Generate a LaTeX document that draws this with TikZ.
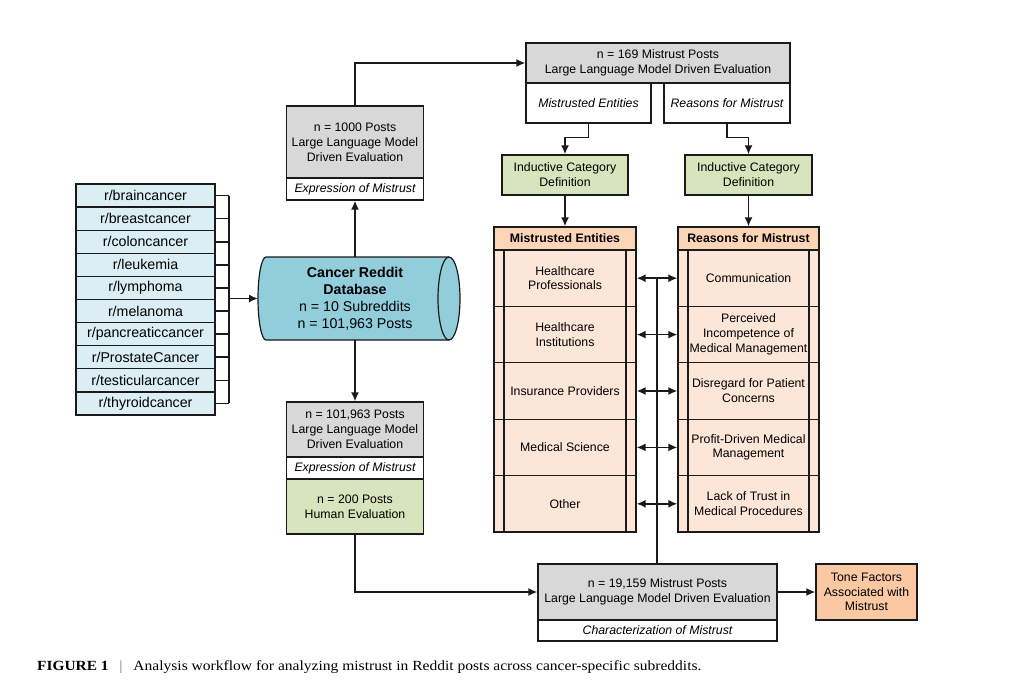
\documentclass[tikz,border=0pt]{standalone}
\usepackage{fontspec}
\setmainfont{Liberation Sans}
\newfontfamily\capfont{Liberation Serif}
\usetikzlibrary{arrows.meta,calc}
\definecolor{subblue}{HTML}{DAEEF3}
\definecolor{cylblue}{HTML}{92CDDC}
\definecolor{boxgray}{HTML}{D8D8D8}
\definecolor{boxgreen}{HTML}{D7E4BD}
\definecolor{peach}{HTML}{FCE6D8}
\definecolor{hdrpeach}{HTML}{FBD5B5}
\definecolor{tonepeach}{HTML}{FAC8A2}
\definecolor{lineclr}{HTML}{1A1A1A}
\newcommand{\fsmain}{\fontsize{12.3}{14.8}\selectfont}
\newcommand{\fsbig}{\fontsize{14.2}{17}\selectfont}
\begin{document}
\begin{tikzpicture}[x=1pt,y=-1pt,
  bx/.style={draw=lineclr, line width=1.2pt, align=center, inner sep=0pt, font=\fsmain},
  graybox/.style={bx, fill=boxgray},
  whitebox/.style={bx, fill=white, font=\fsmain\itshape},
  greenbox/.style={bx, fill=boxgreen},
  hdrbox/.style={bx, fill=hdrpeach, font=\fsmain\bfseries},
  subbox/.style={bx, fill=subblue, font=\fsbig, minimum width=139pt, minimum height=23.1pt},
  procbox/.style={bx, fill=peach, minimum height=56.4pt,
    path picture={
      \draw[lineclr, line width=1.3pt] ([xshift=10pt]path picture bounding box.north west) -- ([xshift=10pt]path picture bounding box.south west);
      \draw[lineclr, line width=1.3pt] ([xshift=-10pt]path picture bounding box.north east) -- ([xshift=-10pt]path picture bounding box.south east);
    }},
  conn/.style={draw=lineclr, line width=1.7pt},
  arr/.style={conn, -{Latex[length=9pt,width=8pt]}},
  darr/.style={conn, {Latex[length=9pt,width=8pt]}-{Latex[length=9pt,width=8pt]}}
]
\useasboundingbox (0,0) rectangle (1009,695);

% subreddit list
\foreach \n [count=\i] in {r/braincancer,r/breastcancer,r/coloncancer,r/leukemia,r/lymphoma,r/melanoma,r/pancreaticcancer,r/ProstateCancer,r/testicularcancer,r/thyroidcancer}{
  \node[subbox] (s\i) at (145.5,{195.55+23.1*(\i-1)}) {\n};
}
\coordinate (br) at (229,298.5);
\foreach \i in {1,...,10}{\draw[conn] (s\i.east) -- (s\i.east -| br);}
\draw[conn] (s1.east -| br) -- (s10.east -| br);

% cylinder
\path[draw=lineclr, line width=1.2pt, fill=cylblue]
  (266,257) -- (449,257) arc[start angle=90, end angle=-90, x radius=11pt, y radius=41.5pt]
  -- (266,340) arc[start angle=270, end angle=90, x radius=8pt, y radius=41.5pt] -- cycle;
\draw[lineclr, line width=1.2pt] (449,257) arc[start angle=90, end angle=270, x radius=11pt, y radius=41.5pt];
\node[inner sep=0pt, minimum width=160pt, minimum height=83pt, align=center, font=\fsbig] (db) at (355,298.5)
  {\textbf{Cancer Reddit}\\\textbf{Database}\\n = 10 Subreddits\\n = 101,963 Posts};
\coordinate (dbw) at (258,298.5);
\draw[arr] (br) -- (dbw);

% left column boxes
\node[graybox, minimum width=137pt, minimum height=72pt] (llm1) at (355,142) {n = 1000 Posts\\Large Language Model\\Driven Evaluation};
\node[whitebox, minimum width=137pt, minimum height=22pt] (exp1) at (355,189) {Expression of Mistrust};
\node[graybox, minimum width=137pt, minimum height=55pt] (llm2) at (355,429.5) {n = 101,963 Posts\\Large Language Model\\Driven Evaluation};
\node[whitebox, minimum width=137pt, minimum height=22pt] (exp2) at (355,468) {Expression of Mistrust};
\node[greenbox, minimum width=137pt, minimum height=55pt] (hum) at (355,506.5) {n = 200 Posts\\Human Evaluation};

% top boxes
\node[graybox, minimum width=264pt, minimum height=40pt] (top) at (658,63) {n = 169 Mistrust Posts\\Large Language Model Driven Evaluation};
\node[whitebox, minimum width=125pt, minimum height=40pt] (me) at (588.5,103) {Mistrusted Entities};
\node[whitebox, minimum width=126pt, minimum height=40pt] (rm) at (727,103) {Reasons for Mistrust};
\node[greenbox, minimum width=126pt, minimum height=40pt] (ind1) at (565,175) {Inductive Category\\Definition};
\node[greenbox, minimum width=127pt, minimum height=40pt] (ind2) at (748.5,175) {Inductive Category\\Definition};

% category columns
\node[hdrbox, minimum width=142pt, minimum height=23pt] (hdr1) at (565,238.5) {Mistrusted Entities};
\node[hdrbox, minimum width=141pt, minimum height=23pt] (hdr2) at (748.5,238.5) {Reasons for Mistrust};
\foreach \t [count=\i] in {{Healthcare\\Professionals},{Healthcare\\Institutions},{Insurance Providers},{Medical Science},{Other}}{
  \node[procbox, minimum width=142pt] (e\i) at (565,{278.2+56.4*(\i-1)}) {\t};
}
\foreach \t [count=\i] in {{Communication},{Perceived\\Incompetence of\\Medical Management},{Disregard for Patient\\Concerns},{Profit-Driven Medical\\Management},{Lack of Trust in\\Medical Procedures}}{
  \node[procbox, minimum width=141pt] (r\i) at (748.5,{278.2+56.4*(\i-1)}) {\t};
}

% bottom boxes
\node[graybox, minimum width=239pt, minimum height=56pt] (llm3) at (657.5,592) {n = 19,159 Mistrust Posts\\Large Language Model Driven Evaluation};
\node[whitebox, minimum width=239pt, minimum height=21pt] (char) at (657.5,630.5) {Characterization of Mistrust};
\node[bx, fill=tonepeach, minimum width=101pt, minimum height=56pt] (tone) at (866.5,592) {Tone Factors\\Associated with\\Mistrust};

% connectors
\draw[arr] (db.north) -- (exp1.south);
\draw[arr] (llm1.north) |- (top.west);
\draw[arr] (db.south) -- (llm2.north);
\draw[arr] (hum.south) |- (llm3.west);
\draw[arr] (me.south) -- ++(0,14) -| (ind1.north);
\draw[arr] (rm.south) -- ++(0,14) -| (ind2.north);
\draw[arr] (ind1.south) -- (hdr1.north);
\draw[arr] (ind2.south) -- (hdr2.north);
\foreach \i in {1,...,5}{\draw[darr] (e\i.east) -- (r\i.west);}
\coordinate (vt) at ($(e1.east)!0.5!(r1.west)$);
\draw[conn] (vt) -- (vt |- llm3.north);
\draw[arr] (llm3.east) -- (tone.west);

% caption
\node[anchor=west, inner sep=0pt, font=\capfont\fontsize{14}{16}\selectfont] (cap) at (37,667)
  {\scalebox{1.1}[1]{\textbf{FIGURE 1}}\hspace{11pt}{\color{black!60}|}\hspace{11pt}\scalebox{1.11}[1]{Analysis workflow for analyzing mistrust in Reddit posts across cancer-specific subreddits.}};
\end{tikzpicture}
\end{document}
